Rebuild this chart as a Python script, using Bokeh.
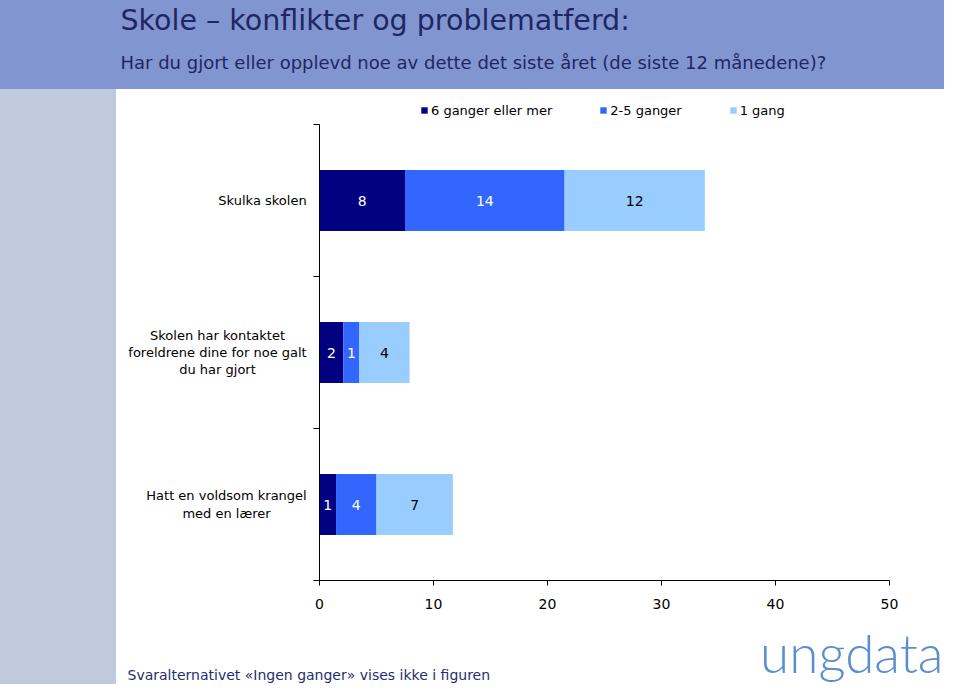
from bokeh.plotting import figure
from bokeh.models import Range1d, Legend, LegendItem, FixedTicker, ColumnDataSource
from bokeh.layouts import column, row
from bokeh.embed import file_html
from bokeh.resources import INLINE
from bokeh.core.properties import value

# ---------------- data ----------------
categories = [
    "Skulka skolen",
    "Skolen har kontaktet\nforeldrene dine for noe galt\ndu har gjort",
    "Hatt en voldsom krangel\nmed en lærer",
]
six_plus = [7.5, 2.1, 1.45]        # 6 ganger eller mer
two_to_five = [14.0, 1.4, 3.55]    # 2-5 ganger
once = [12.3, 4.4, 6.7]            # 1 gang
series_names = ["6 ganger eller mer", "2-5 ganger", "1 gang"]
x_ticks = [0, 10, 20, 30, 40, 50]

title_text = "Skole \u2013 konflikter og problematferd:"
subtitle_text = "Har du gjort eller opplevd noe av dette det siste året (de siste 12 månedene)?"
footnote_text = "Svaralternativet «Ingen ganger» vises ikke i figuren"
logo_text = "ungdata"

# ---------------- style ----------------
FONT = "DejaVu Sans"
colors = ["#000080", "#3366FF", "#99CCFF"]
label_colors = ["white", "white", "black"]
header_color = "#8196D0"
strip_color = "#C0CADE"
title_color = "#1F2664"
foot_color = "#1F2E6E"
logo_color = "#5B8ECF"
cat_label_centers = [262, 217, 226]   # horizontal centre of each label block (px)

TOTAL_W, TOTAL_H = 944, 684
HEADER_H = 89
STRIP_W = 116
LEFT_W = 309
MID_BOTTOM = 620
MID_H = MID_BOTTOM - HEADER_H
FOOT_H = TOTAL_H - MID_BOTTOM
AXIS_X = 319          # page x of the value axis origin
PLOT_RIGHT = 889      # page x of value 50
AXIS_TOP = 124        # page y of top of category axis
AXIS_BOTTOM = 580     # page y of category axis bottom
FRAME_TOP = 92        # frame top (room for the legend)
XMAX, NCAT = 50, len(categories)
PX_PER_CAT = (AXIS_BOTTOM - AXIS_TOP) / NCAT

FT = FRAME_TOP - HEADER_H
FB = MID_BOTTOM - AXIS_BOTTOM


def bare_fig(w, h, bg, xr, yr, **kw):
    f = figure(width=w, height=h, x_range=xr, y_range=yr, toolbar_location=None,
               x_axis_location=None, y_axis_location=None, output_backend="svg",
               styles={"background-color": bg}, **kw)
    f.grid.visible = False
    f.background_fill_color = bg
    f.border_fill_color = bg
    f.outline_line_color = None
    return f


# ---------------- header ----------------
header = bare_fig(TOTAL_W, HEADER_H, header_color, Range1d(0, TOTAL_W), Range1d(HEADER_H, 0),
                  min_border=0)
header.text(x=[120], y=[20], text=[title_text], text_font=value(FONT), text_font_size="28.5px",
            text_color=title_color, text_baseline="middle")
header.text(x=[120], y=[62], text=[subtitle_text], text_font=value(FONT), text_font_size="18px",
            text_color=title_color, text_baseline="middle")

# ---------------- left strip ----------------
strip = bare_fig(STRIP_W, MID_H, strip_color, Range1d(0, 1), Range1d(0, 1),
                 min_border_left=0, min_border_right=0, min_border_top=FT, min_border_bottom=FB)

# ---------------- category labels ----------------
labels_fig = bare_fig(LEFT_W - STRIP_W, MID_H, "white", Range1d(STRIP_W, LEFT_W),
                      Range1d(AXIS_BOTTOM, FRAME_TOP),
                      min_border_left=0, min_border_right=0, min_border_top=FT,
                      min_border_bottom=FB)
ys = [NCAT - i - 0.5 for i in range(NCAT)]
cat_py = [AXIS_TOP + (NCAT - y) * PX_PER_CAT for y in ys]
labels_fig.text(x=cat_label_centers, y=cat_py, text=categories, text_font=value(FONT),
                text_font_size="13px", text_color="black", text_align="center",
                text_baseline="middle", text_line_height=1.16)

# ---------------- main chart ----------------
FL = AXIS_X - LEFT_W
FR = TOTAL_W - PLOT_RIGHT
y_end = NCAT + (AXIS_TOP - FRAME_TOP) / PX_PER_CAT

p = figure(width=TOTAL_W - LEFT_W, height=MID_H, x_range=Range1d(0, XMAX),
           y_range=Range1d(0, y_end),
           min_border_left=FL, min_border_right=FR, min_border_top=FT, min_border_bottom=FB,
           toolbar_location=None, output_backend="svg")
p.grid.visible = False
p.outline_line_color = None
p.background_fill_color = "white"
p.border_fill_color = "white"

series = [six_plus, two_to_five, once]
renderers = []
lefts = [0.0] * NCAT
txt_x, txt_y, txt_t, txt_c = [], [], [], []
for vals, col, lc in zip(series, colors, label_colors):
    rights = [l + v for l, v in zip(lefts, vals)]
    src = ColumnDataSource(dict(y=ys, left=lefts, right=rights))
    r = p.hbar(y="y", left="left", right="right", height=0.4, source=src,
               fill_color=col, line_color=None)
    renderers.append(r)
    for l, v, yy in zip(lefts, vals, ys):
        txt_x.append(l + v / 2)
        txt_y.append(yy)
        txt_t.append(str(int(v + 0.5)))
        txt_c.append(lc)
    lefts = rights

p.text(x="x", y="y", text="t", text_color="c",
       source=ColumnDataSource(dict(x=txt_x, y=txt_y, t=txt_t, c=txt_c)),
       text_font=value(FONT), text_font_size="14px", text_align="center",
       text_baseline="middle")

xa = p.xaxis[0]
xa.ticker = FixedTicker(ticks=x_ticks)
xa.major_tick_in = 0
xa.major_tick_out = 5
xa.minor_tick_line_color = None
xa.axis_line_color = "black"
xa.major_tick_line_color = "black"
xa.major_label_text_font = FONT
xa.major_label_text_font_size = "14px"
xa.major_label_text_color = "black"
xa.major_label_standoff = 13

ya = p.yaxis[0]
ya.ticker = FixedTicker(ticks=list(range(NCAT + 1)))
ya.bounds = (0, NCAT)
ya.major_tick_in = 0
ya.major_tick_out = 6
ya.minor_tick_line_color = None
ya.axis_line_color = "black"
ya.major_tick_line_color = "black"
ya.major_label_overrides = {i: "" for i in range(NCAT + 1)}
ya.major_label_standoff = 0

legend = Legend(items=[LegendItem(label=n, renderers=[r]) for n, r in zip(series_names, renderers)],
                orientation="horizontal", location=(420 - AXIS_X, AXIS_BOTTOM - 120),
                glyph_width=8, glyph_height=8, label_standoff=3, spacing=47,
                padding=0, margin=0, border_line_color=None, background_fill_alpha=0,
                label_text_font=FONT, label_text_font_size="13px", label_text_color="black",
                label_height=20)
p.add_layout(legend, "center")

# ---------------- footer ----------------
foot_strip = bare_fig(STRIP_W, FOOT_H, strip_color, Range1d(0, 1), Range1d(0, 1), min_border=0)
foot_main = bare_fig(TOTAL_W - STRIP_W, FOOT_H, "white", Range1d(STRIP_W, TOTAL_W),
                     Range1d(FOOT_H, 0), min_border=0)
foot_main.text(x=[127], y=[54], text=[footnote_text], text_font=value(FONT),
               text_font_size="14px", text_color=foot_color, text_baseline="middle")
foot_main.text(x=[943], y=[31.5], text=[logo_text], text_font=value("Lato Light"),
               text_font_size="53px", text_color=logo_color, text_align="right",
               text_baseline="middle")

layout = column(header, row(strip, labels_fig, p), row(foot_strip, foot_main))
open("out.html", "w").write(file_html(layout, INLINE))
